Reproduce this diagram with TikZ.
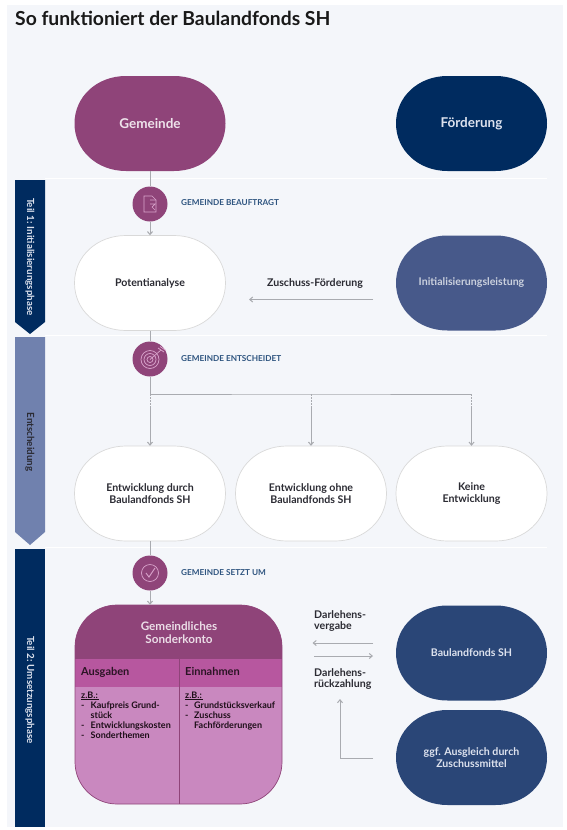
\documentclass[tikz,border=0pt]{standalone}
\usepackage{fontspec}
\setmainfont{Lato}
\usetikzlibrary{arrows.meta,calc}
\definecolor{bgc}{HTML}{F4F6FA}
\definecolor{plum}{HTML}{8F4479}
\definecolor{navy}{HTML}{002B5F}
\definecolor{midblue}{HTML}{47598A}
\definecolor{fund}{HTML}{2A4677}
\definecolor{paleb}{HTML}{7081AE}
\definecolor{band}{HTML}{B7579F}
\definecolor{bodyc}{HTML}{C988BF}
\definecolor{conn}{HTML}{A9ABB0}
\definecolor{caps}{HTML}{2F5580}
\definecolor{dark}{HTML}{2B2B33}
\definecolor{iconc}{HTML}{D9A5CC}
\definecolor{lightt}{HTML}{DDE2EE}
\newcommand{\fs}[1]{\fontsize{#1}{12}\selectfont}
\newcommand{\pillat}[3]{\path[shift={(#1,#2)},#3] (-75.5,0) .. controls (-75.5,-27) and (-53,-47.5) .. (-24,-47.5) -- (24,-47.5) .. controls (53,-47.5) and (75.5,-27) .. (75.5,0) .. controls (75.5,27) and (53,47.5) .. (24,47.5) -- (-24,47.5) .. controls (-53,47.5) and (-75.5,27) .. (-75.5,0) -- cycle;}
\tikzset{
  x=1pt,y=-1pt,
  pill/.style={minimum width=151pt,minimum height=95pt,inner sep=0pt,align=center,font=\fs{10.6}\bfseries},
  whitepill/.style={pill,text=dark},
  wdraw/.style={fill=white,draw=black!15,line width=.7pt},
  bluepill/.style={pill,text=lightt},
  disc/.style={circle,fill=plum,minimum size=35pt,inner sep=0pt},
  capt/.style={anchor=west,inner sep=0pt,text=caps,font=\fs{8.2}\bfseries},
  lab/.style={inner sep=0pt,text=dark,font=\fs{10.6}\bfseries,align=left},
  line/.style={draw=conn,line width=1pt},
  arr/.style={line,-{Straight Barb[length=3pt,width=5pt]}},
  banner/.style={inner sep=0pt,rotate=-90,font=\fs{9.8}\bfseries},
  sep/.style={draw=white,line width=1.5pt},
  ico/.style={draw=iconc,line width=.7pt},
  lst/.style={anchor=west,inner sep=0pt,text=black!80!plum,font=\fs{9}\bfseries,align=left,text height=7pt,text depth=2pt},
  kband/.style={anchor=west,inner sep=0pt,text=black!70!plum,font=\fs{11}\bfseries,text height=8pt,text depth=3pt},
}
\begin{document}
\begin{tikzpicture}
\useasboundingbox (0,0) rectangle (566,830);
\fill[white] (0,0) rectangle (566,830);
\fill[bgc] (7,5) rectangle (563,827);
\node[anchor=west,inner sep=0pt,font=\fontsize{19.3}{22}\selectfont\bfseries,text=black!90] (title) at (15,18) {So funktioniert der Baulandfonds SH};
% separators
\draw[sep] (45,178.5) -- (547,178.5);
\draw[sep] (45,335.5) -- (547,335.5);
\draw[sep] (45,547.5) -- (547,547.5);
% banners
\fill[navy] (15,180) -- (45,180) -- (45,322) -- (30,334) -- (15,322) -- cycle;
\fill[paleb] (15,337) -- (45,337) -- (45,532) -- (30,545) -- (15,532) -- cycle;
\fill[navy] (15,549) rectangle (45,827);
\node[banner,text=lightt] (b1) at (30,257) {Teil 1: Initialisierungsphase};
\node[banner,text=dark] (b2) at (30,442) {Entscheidung};
\node[banner,text=lightt] (b3) at (30,690) {Teil 2: Umsetzungsphase};
% pills
\pillat{150}{123.5}{fill=plum}
\pillat{471.5}{123.5}{fill=navy}
\pillat{150}{283}{wdraw}
\pillat{471.5}{283}{fill=midblue}
\pillat{150}{493.5}{wdraw}
\pillat{311}{493.5}{wdraw}
\pillat{471.5}{493.5}{wdraw}
\pillat{471.5}{653}{fill=fund}
\pillat{471.5}{757.5}{fill=fund}
\node[pill,text=white!85!plum,font=\fs{13.5}\bfseries] (gem) at (150,123.5) {Gemeinde};
\node[pill,text=lightt,font=\fs{13.5}\bfseries] (foe) at (471.5,123.5) {Förderung};
\node[whitepill] (pot) at (150,283) {Potentianalyse};
\node[bluepill,text=white!72!midblue] (ini) at (471.5,283) {Initialisierungsleistung};
\node[whitepill] (e1) at (150,493.5) {Entwicklung durch\\Baulandfonds SH};
\node[whitepill] (e2) at (311,493.5) {Entwicklung ohne\\Baulandfonds SH};
\node[whitepill] (e3) at (471.5,493.5) {Keine\\Entwicklung};
\node[bluepill] (bau) at (471.5,653) {Baulandfonds SH};
\node[bluepill] (aus) at (471.5,757.5) {ggf. Ausgleich durch\\Zuschussmittel};
% konto
\node[rounded corners=42pt,minimum width=207pt,minimum height=199pt,inner sep=0pt,fill=bodyc] (konto) at (178.5,704.5) {};
\begin{scope}
\clip[rounded corners=42pt] (75,605) rectangle (282,804);
\fill[plum] (75,605) rectangle (282,659);
\fill[band] (75,659) rectangle (282,687);
\draw[plum,line width=.8pt] (179,659) -- (179,804);
\end{scope}
\draw[plum,line width=.7pt,rounded corners=42pt] (75,605) rectangle (282,804);
\node[inner sep=0pt,align=center,text=white!82!plum,font=\fontsize{11.7}{13}\selectfont\bfseries] (kh) at (179,632.5) {Gemeindliches\\Sonderkonto};
\node[kband] (ka) at (81,673) {Ausgaben};
\node[kband] (ke) at (185,673) {Einnahmen};
\node[lst] (z1) at (81,695.5) {z.B.:};
\node[lst] (z2) at (185,695.5) {z.B.:};
\draw[black!80!plum,line width=.5pt] (z1.base west) ++(0,1) -- ++(18,0);
\draw[black!80!plum,line width=.5pt] (z2.base west) ++(0,1) -- ++(18,0);
\node[lst] (d1) at (81,706) {-};
\node[lst] (t1) at (90.5,706) {Kaufpreis Grund-};
\node[lst] (t1b) at (90.5,716) {stück};
\node[lst] (d2) at (81,726) {-};
\node[lst] (t2) at (90.5,726) {Entwicklungskosten};
\node[lst] (d3) at (81,736) {-};
\node[lst] (t3) at (90.5,736) {Sonderthemen};
\node[lst] (d4) at (185,706) {-};
\node[lst] (t4) at (194,706) {Grundstücksverkauf};
\node[lst] (d5) at (185,716) {-};
\node[lst] (t5) at (194,716) {Zuschuss};
\node[lst] (t5b) at (194,726) {Fachförderungen};
% discs
\node[disc] (c1) at (150,204) {};
\node[disc] (c2) at (150,359) {};
\node[disc] (c3) at (150,573) {};
\node[capt] (l1) at (181,203) {GEMEINDE BEAUFTRAGT};
\node[capt] (l2) at (181,358.5) {GEMEINDE ENTSCHEIDET};
\node[capt] (l3) at (181,572.5) {GEMEINDE SETZT UM};
% connectors
\draw[line] (gem) -- (c1);
\draw[arr] (c1) -- (pot);
\draw[line] (pot) -- (c2);
\coordinate (j1) at (150,394);
\coordinate (j2) at (311,394);
\coordinate (j3) at (471.5,394);
\coordinate (k1) at (150,408);
\coordinate (k2) at (311,408);
\coordinate (k3) at (471.5,408);
\draw[line] (c2) -- (j1) -- (j2) -- (j3);
\foreach \a/\b/\c in {j1/k1/e1,j2/k2/e2,j3/k3/e3}{
  \draw[line,dash pattern=on 1.5pt off 1.5pt] (\a) -- (\b);
  \draw[arr] (\b) -- (\c);
}
\draw[line] (e1) -- (c3);
\coordinate (kt) at (c3 |- konto.north);
\draw[arr] (c3) -- (kt);
\coordinate (a1) at (373,299.5);
\coordinate (a2) at (249,299.5);
\draw[arr] (a1) -- (a2);
\node[lab] (zf) at (315,283.5) {Zuschuss-Förderung};
\coordinate (v1) at (373,643);
\coordinate (v2) at (312.5,643);
\coordinate (r1) at (314,656);
\coordinate (r2) at (373,656);
\coordinate (g1) at (373,758);
\coordinate (g2) at (340,758);
\coordinate (g3) at (340,699);
\draw[arr] (v1) -- (v2);
\draw[arr] (r1) -- (r2);
\draw[arr] (g1) -- (g2) -- (g3);
\node[lab,anchor=west] (dv1) at (314,615) {Darlehens-};
\node[lab,anchor=west] (dv2) at (314,627) {vergabe};
\node[lab,anchor=west] (dr1) at (314,673) {Darlehens-};
\node[lab,anchor=west] (dr2) at (314,685) {rückzahlung};
% icons
\draw[ico] (144,196) -- (152,196) -- (156,200) -- (156,212) -- (144,212) -- cycle;
\draw[ico] (150,200) -- (156,200) (150,204) -- (155,204) -- (152,207) -- (155,210);
\draw[ico] (150,359.5) circle (9) circle (6) circle (3);
\draw[ico] (150,359.5) -- (161,350);
\draw[ico] (158,348) -- (164,352) (160,346.5) -- (166,350.5);
\draw[ico] (150,573) circle (8.5);
\draw[ico,line width=.9pt] (146,573) -- (149,577) -- (155,568);
\end{tikzpicture}
\end{document}
